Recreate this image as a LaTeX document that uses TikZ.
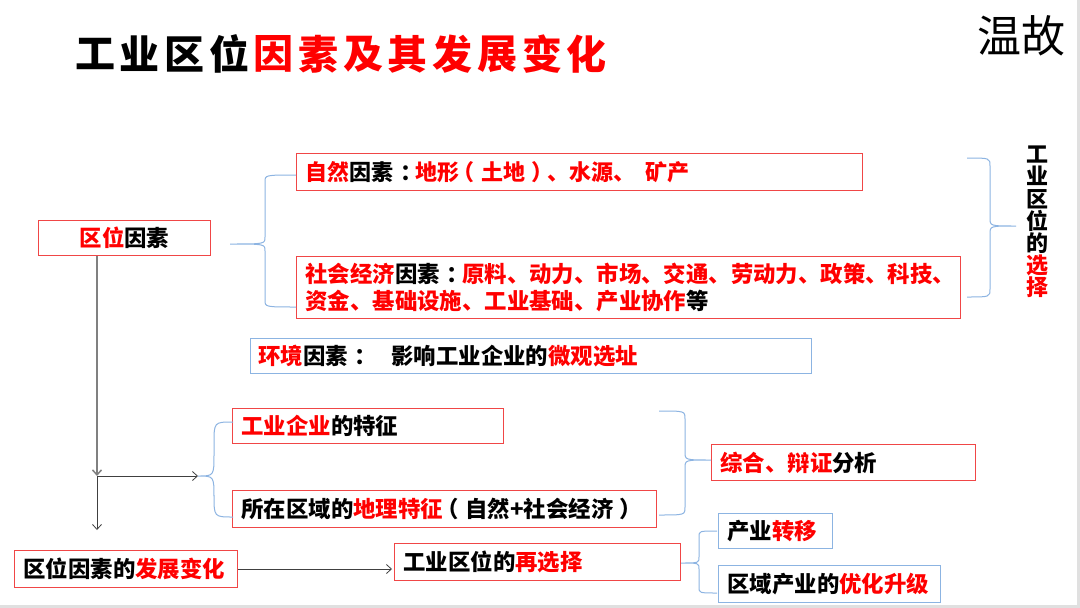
\documentclass[tikz,border=0pt]{standalone}
\usepackage{fontspec}
\usetikzlibrary{arrows.meta,calc}
\newfontfamily\cjk{Noto Sans CJK SC}
\definecolor{tred}{RGB}{255,0,0}
\definecolor{bred}{RGB}{240,70,70}
\definecolor{bblue}{RGB}{140,180,226}
\definecolor{brc}{RGB}{141,180,226}
\newcommand\R[1]{\textcolor{tred}{#1}}
\newcommand\cc{\makebox[1em][l]{\hspace{0.3em}：}}
\newcommand\lp{\makebox[1em][l]{\hspace{-0.3em}（}}
\newcommand\rp{\makebox[1em][l]{\hspace{0.25em}）}}
\newcommand\brc[7]{% x1, yt, yb, xv, xt, ytip, r
 \draw[bracestyle] (#1,#2) .. controls (#4,#2) .. (#4,#2+#7) -- (#4,#6-#7) .. controls (#4,#6) .. (#5,#6) .. controls (#4,#6) .. (#4,#6+#7) -- (#4,#3-#7) .. controls (#4,#3) .. (#1,#3);}
\begin{document}
\begin{tikzpicture}[x=1pt,y=-1pt,
 rbox/.style={draw=bred, line width=1pt, anchor=north west, inner xsep=9pt, inner ysep=0pt, align=left, font=\cjk\bfseries\fontsize{22.4}{26}\selectfont},
 bbox/.style={rbox, draw=bblue},
 bracestyle/.style={draw=brc, line width=1pt},
 arr/.style={draw=black!75, line width=0.8pt, -{Straight Barb[length=5pt,width=9pt]}}
]
\useasboundingbox (0,0) rectangle (1080,608);
\fill[white] (0,0) rectangle (1080,608);
\fill[black!12] (0,605) rectangle (1080,608);
\fill[black!12] (1077,0) rectangle (1080,608);

% title
\foreach \c [count=\i] in {工,业,区,位,因,素,及,其,发,展,变,化}{
  \ifnum\i<5 \def\col{black}\else\def\col{tred}\fi
  \node[font=\cjk\bfseries\fontsize{40}{40}\selectfont, text=\col, inner sep=0] (t\i) at ({95+44.7*(\i-1)},54) {\c};
}
\node[font=\cjk\fontsize{44}{44}\selectfont, inner sep=0] (wg) at (1021,36) {温故};

% boxes
\node[rbox, text width=154pt, minimum height=35pt, align=center] (qw) at (38,220) {\R{区位}因素};
\node[rbox, font=\cjk\bfseries\fontsize{22}{27}\selectfont, text width=548pt, minimum height=37pt] (zr) at (296,153) {\R{自然}因素\cc\R{地形\lp 土地\rp、水源、\hspace{10pt}矿产}};
\node[rbox, font=\cjk\bfseries\fontsize{22.4}{27}\selectfont, text width=646pt, minimum height=62pt] (sh) at (296,256) {\R{社会经济}因素\cc\R{原料、动力、市场、交通、劳动力、政策、科技、}\\\R{资金、基础设施、工业基础、产业协作}等};
\node[bbox, inner xsep=8pt, text width=545pt, minimum height=35pt] (hj) at (250,338) {\R{环境}因素\cc\hspace{21pt}影响工业企业的\R{微观选址}};
\node[rbox, text width=253pt, minimum height=35pt] (qy) at (232,408) {\R{工业企业}的特征};
\node[rbox, text width=406pt, minimum height=37pt] (dl) at (232,490) {所在区域的\R{地理特征}\lp 自然+社会经济\rp};
\node[rbox, text width=246pt, minimum height=36pt] (zh) at (711,444) {\R{综合、辩证}分析};
\node[rbox, text width=205pt, minimum height=37pt] (fz) at (14,550) {区位因素的\R{发展变化}};
\node[rbox, text width=268pt, minimum height=37pt] (zx) at (394,543) {工业区位的\R{再选择}};
\node[bbox, text width=96pt, minimum height=35pt] (cy) at (718,513) {产业\R{转移}};
\node[bbox, text width=204pt, minimum height=37pt] (yh) at (718,565) {区域产业的\R{优化升级}};

% vertical label
\node[font=\cjk\bfseries\fontsize{22}{22.2}\selectfont, align=center, inner sep=0] (xz) at (1037,222) {工\\业\\区\\位\\的\\\R{选}\\\R{择}};

% braces
\brc{296}{175}{307}{265}{230}{244}{7}
\brc{967}{158}{297}{990}{1016}{226}{8}
\brc{233}{422}{517}{214}{198}{476}{22}
\brc{659}{411}{515}{685}{711}{460}{8}
\brc{717}{531}{593}{699}{681}{563}{6}

% arrows
\coordinate (j1) at (97,476);
\coordinate (b3) at (198,476);
\coordinate (j2) at (97,530);
\draw[line width=1.5pt, draw=black!50, -{Straight Barb[length=5pt,width=9pt]}] (qw.south -| j1) -- (j1);
\draw[arr] (j1) -- (b3);
\draw[arr] (j1) -- (j2);
\draw[arr, shorten >=2pt] (fz.east) -- (fz.east -| zx.west);
\end{tikzpicture}
\end{document}
